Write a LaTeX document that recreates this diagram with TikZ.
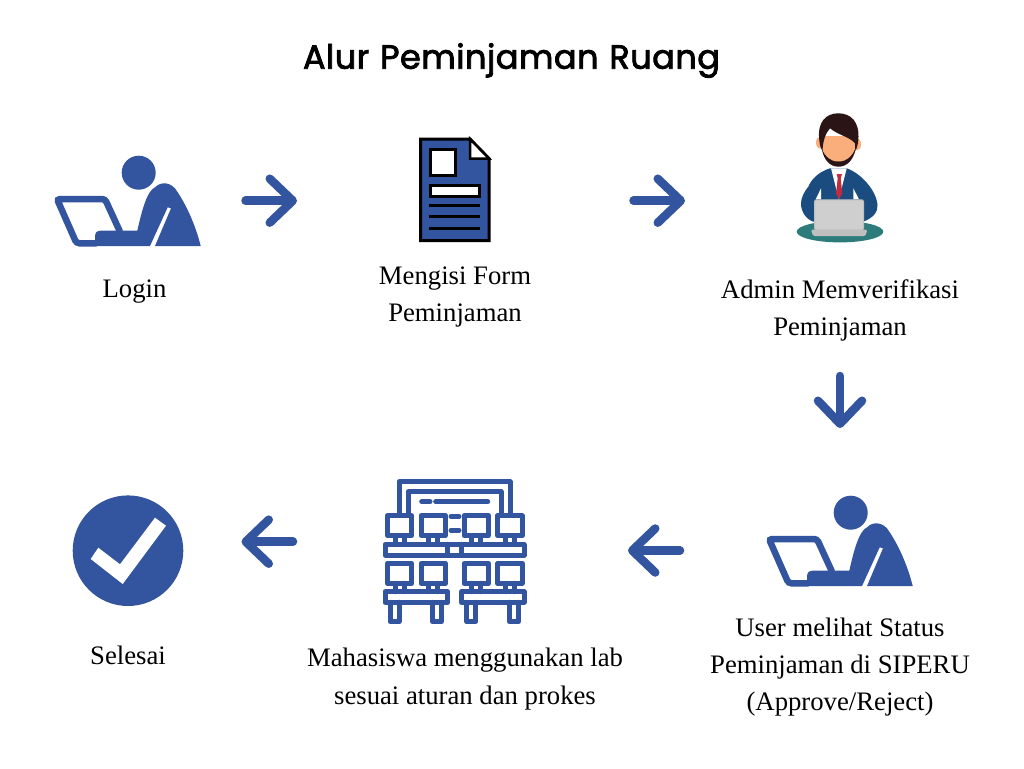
\documentclass[tikz,border=0pt]{standalone}
\usepackage{fontspec}
\setmainfont{Liberation Serif}
\newfontfamily\titlefont[FakeBold=2.5,LetterSpace=1.5,WordSpace=1.15]{Poppins}
\usetikzlibrary{arrows.meta}
\definecolor{iconblue}{HTML}{33549E}
\definecolor{suitblue}{HTML}{1B4C80}
\definecolor{baseteal}{HTML}{2E7B7B}
\definecolor{skintone}{HTML}{F9AE7B}
\definecolor{hairdark}{HTML}{2B1416}
\definecolor{tiered}{HTML}{C22A3F}
\tikzset{
  steplabel/.style={font=\fontsize{26.7}{37.3}\selectfont,align=center,inner sep=0pt,text=black},
  flowarrow/.style={draw=iconblue,line width=8.5pt,line cap=round,
    -{Straight Barb[round,length=23pt,width=44pt,line width=8.5pt]}},
  labline/.style={draw=iconblue,line width=5pt,line cap=round,line join=round},
  laptopuser/.pic={
    \fill[iconblue] (83.7,17.7) circle (17);
    \draw[iconblue,line width=6.5pt,rounded corners=3pt] (65,76.7) -- (50,44) -- (2,44) -- (21.5,88.3) -- (41.7,88.3);
    \fill[iconblue] (40,91) -- (40,81.7) .. controls (40,77.5) and (42,75.7) .. (45.7,75.7)
      -- (82.3,75.7) .. controls (87,55) and (92,36) .. (100,32.3)
      .. controls (106,26) and (117,27) .. (122.3,36.7)
      .. controls (130,48) and (140,68) .. (145.7,91)
      -- (100,91) -- (116,53.3) -- (112.7,52.3) -- (95,91) -- cycle;
  }
}
\begin{document}
\begin{tikzpicture}[x=1pt,y=-1pt]
\useasboundingbox [fill=white] (0,0) rectangle (1024,768);
\node (title) at (511.5,60.5) [font=\titlefont\fontsize{33.5}{40}\selectfont,inner sep=0pt] {Alur Peminjaman Ruang};
% icons
\pic at (55,155) {laptopuser};
\pic at (767,495) {laptopuser};
\draw[black,line width=3pt,fill=iconblue,line join=miter] (420.5,139) -- (470,139) -- (489,158.5) -- (489,240.5) -- (420.5,240.5) -- cycle;
\draw[black,line width=2.5pt,fill=white] (470,139) -- (470,158.5) -- (489,158.5) -- cycle;
\draw[black,line width=3pt,fill=white] (430,149.5) rectangle (455,175);
\draw[black,line width=3pt,fill=white] (430,185) rectangle (479,196);
\foreach \y in {205,216,228}
  \draw[black,line width=3pt] (429,\y) -- (480,\y);
% admin
\fill[baseteal] (840,231.7) ellipse [x radius=43.3,y radius=10.7];
\fill[suitblue] (830,168.3) .. controls (818,172) and (811,180) .. (808.3,186.7)
  .. controls (804,192) and (801,198) .. (801,203.3)
  .. controls (801,212) and (806,219) .. (813.3,221.7) -- (863.3,221.7)
  .. controls (873,218) and (878,212) .. (877.5,205)
  .. controls (877,198) and (873,190) .. (867,183)
  .. controls (861,176) and (854,171) .. (846.7,168.3) -- cycle;
\fill[white] (821,188.3) -- (821,199.3) -- (815.7,199.3) -- cycle;
\fill[white] (853.3,188.3) -- (853.3,199.3) -- (859,199.3) -- cycle;
\fill[white] (831,168.3) -- (846.7,168.3) -- (838.8,199.3) -- cycle;
\fill[tiered] (836.7,174) -- (842,174) -- (840.7,178.3) -- (842.3,193.3) -- (839,199.3) -- (836,193.3) -- (837.7,178.3) -- cycle;
\fill[skintone] (820,142.7) ellipse [x radius=4,y radius=6];
\fill[skintone] (857,144.3) ellipse [x radius=4,y radius=6];
\fill[hairdark] (822,150) .. controls (824,160) and (830,166.7) .. (838.5,166.7)
  .. controls (847,166.7) and (853,160) .. (855.5,150) -- cycle;
\fill[skintone] (822,136) -- (855,136) -- (855,149.3)
  .. controls (852,156) and (847,161.5) .. (838.5,161.5)
  .. controls (830,161.5) and (825,156) .. (822,149.3) -- cycle;
\fill[hairdark] (819.3,140) .. controls (817,122) and (826,113.3) .. (838.3,113.3)
  .. controls (851,113.3) and (860,122) .. (858.3,140)
  .. controls (858,144) and (857,148) .. (855.3,151)
  -- (855,143.3) .. controls (850,137) and (838,135) .. (830,128.3)
  .. controls (826,133) and (823,139) .. (822.5,151) .. controls (820.5,148) and (819.5,144) .. (819.3,140) -- cycle;
\draw[gray!50,fill=gray!38,line width=1pt,rounded corners=2pt] (814.5,199.8) rectangle (863.5,230);
\fill[gray!50,rounded corners=1.5pt] (811,229.5) -- (867.3,229.5) -- (865.5,236) -- (813,236) -- cycle;
% lab
\draw[labline] (399,514.3) -- (399,481.7) -- (510,481.7) -- (510,514.3);
\draw[labline] (408.3,514.3) -- (408.3,491.7) -- (501,491.7) -- (501,514.3);
\draw[labline] (421.7,501.7) -- (430,501.7);
\draw[labline] (435.7,501.7) -- (487.7,501.7);
\draw[labline] (451,516.3) -- (459,516.3);
\draw[labline] (451,530.3) -- (459,530.3);
\foreach \x in {387.3,421,464,497.7} {
  \draw[labline] (\x,515.7) rectangle ++(24.4,20);
  \draw[labline] (\x,563.3) rectangle ++(24.4,20);
  \draw[labline] (\x+7.7,535.7) -- (\x+7.7,544.3);
  \draw[labline] (\x+16.7,535.7) -- (\x+16.7,544.3);
  \draw[labline] (\x+7.7,583.3) -- (\x+7.7,591.7);
  \draw[labline] (\x+16.7,583.3) -- (\x+16.7,591.7);
}
\draw[labline] (385,544.3) rectangle (524,555);
\draw[labline] (447.7,544.3) -- (447.7,555);
\draw[labline] (461.7,544.3) -- (461.7,555);
\draw[labline] (385,591.7) rectangle (447.7,602.3);
\draw[labline] (461.7,591.7) rectangle (524,602.3);
\foreach \x in {390,432.5,466.7,509.5}
  \draw[labline] (\x,602.3) -- (\x,621.7) -- (\x+9,621.7) -- (\x+9,602.3);
% check
\fill[iconblue] (128,550.7) circle (55.3);
\fill[white] (98.3,547.7) -- (120,564.3) -- (155,517.7) -- (166,525.7) -- (122.7,584) -- (90.7,559) -- cycle;
% labels
\node (login) at (134.5,291.5) [steplabel] {Login};
\node (form) at (455,297) [steplabel] {Mengisi Form\\Peminjaman};
\node (admin) at (840,310.5) [steplabel] {Admin Memverifikasi\\Peminjaman};
\node (status) at (840,667) [steplabel] {User melihat Status\\Peminjaman di SIPERU\\(Approve/Reject)};
\node (lab) at (465,679) [steplabel] {Mahasiswa menggunakan lab\\sesuai aturan dan prokes};
\node (done) at (128,655) [steplabel] {Selesai};
% arrows
\coordinate (loginout) at (245.5,200.7);
\coordinate (formin) at (297,200.7);
\coordinate (formout) at (633.5,200.7);
\coordinate (adminin) at (685,200.7);
\coordinate (adminout) at (840,376);
\coordinate (statusin) at (840,428);
\coordinate (statusout) at (680,550.5);
\coordinate (labin) at (628,550.5);
\coordinate (labout) at (293,541.7);
\coordinate (donein) at (241.5,541.7);
\draw[flowarrow] (loginout) -- (formin);
\draw[flowarrow] (formout) -- (adminin);
\draw[flowarrow] (adminout) -- (statusin);
\draw[flowarrow] (statusout) -- (labin);
\draw[flowarrow] (labout) -- (donein);
\end{tikzpicture}
\end{document}
